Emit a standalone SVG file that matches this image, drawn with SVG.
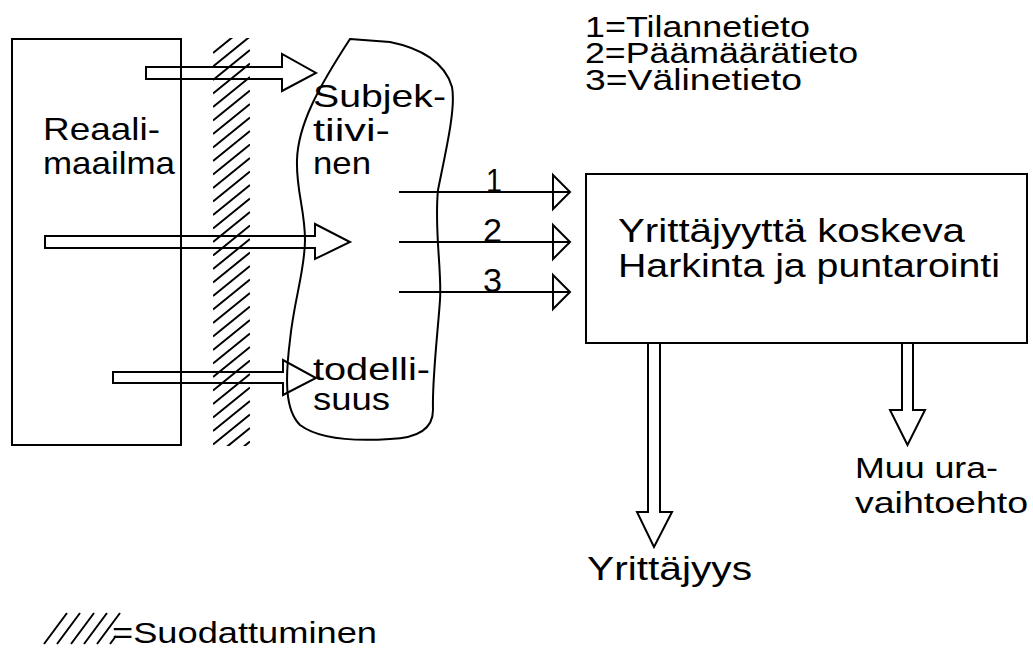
<svg xmlns="http://www.w3.org/2000/svg" width="1033" height="652" viewBox="0 0 1033 652">
<style>
.s{fill:none;stroke:#000;stroke-width:2;stroke-linejoin:miter}
.t{font-family:"Liberation Sans",Arial,sans-serif;fill:#000}
</style>
<defs>
<clipPath id="band"><rect x="213" y="38" width="37" height="408"/></clipPath>
</defs>
<rect width="1033" height="652" fill="#fff"/>
<g id="reaalimaailma">
<rect class="s" x="12" y="39" width="169" height="406"/>
<text class="t" x="43" y="140" font-size="32" textLength="117" lengthAdjust="spacingAndGlyphs">Reaali-</text>
<text class="t" x="43" y="174" font-size="32" textLength="132" lengthAdjust="spacingAndGlyphs">maailma</text>
</g>
<g id="suodatin">
<path class="s" clip-path="url(#band)" d="M213,53l37,-30M213,66.5l37,-30M213,80l37,-30M213,93.5l37,-30M213,107l37,-30M213,120.5l37,-30M213,134l37,-30M213,147.5l37,-30M213,161l37,-30M213,174.5l37,-30M213,188l37,-30M213,201.5l37,-30M213,215l37,-30M213,228.5l37,-30M213,242l37,-30M213,255.5l37,-30M213,269l37,-30M213,282.5l37,-30M213,296l37,-30M213,309.5l37,-30M213,323l37,-30M213,336.5l37,-30M213,350l37,-30M213,363.5l37,-30M213,377l37,-30M213,390.5l37,-30M213,404l37,-30M213,417.5l37,-30M213,431l37,-30M213,444.5l37,-30M213,458l37,-30M213,471.5l37,-30"/>
</g>
<g id="subjektiivinen">
<path class="s" d="M350,39 L390,42 C420,48 445,62 452,87 C456,108 446,150 438,190 C434,230 442,270 440,300 C438,330 432,380 433,410 C433,428 420,438 390,439 C360,441 320,440 300,425 C285,410 285,380 290,340 C294,300 305,270 305,240 C305,210 296,190 297,160 C298,125 318,88 350,39 Z"/>
<text class="t" x="313" y="107" font-size="32" textLength="133" lengthAdjust="spacingAndGlyphs">Subjek-</text>
<text class="t" x="313" y="141" font-size="32" textLength="77" lengthAdjust="spacingAndGlyphs">tiivi-</text>
<text class="t" x="313" y="174" font-size="32" textLength="58" lengthAdjust="spacingAndGlyphs">nen</text>
<text class="t" x="313" y="380" font-size="31" textLength="117" lengthAdjust="spacingAndGlyphs">todelli-</text>
<text class="t" x="313" y="410" font-size="31" textLength="77" lengthAdjust="spacingAndGlyphs">suus</text>
</g>
<g id="harkinta">
<rect class="s" x="586" y="174" width="441" height="169"/>
<text class="t" x="618" y="242" font-size="34" textLength="347" lengthAdjust="spacingAndGlyphs">Yrittäjyyttä koskeva</text>
<text class="t" x="618" y="277" font-size="34" textLength="382" lengthAdjust="spacingAndGlyphs">Harkinta ja puntarointi</text>
</g>
<g id="yrittajyys">
<text class="t" x="587" y="580" font-size="33" textLength="165" lengthAdjust="spacingAndGlyphs">Yrittäjyys</text>
</g>
<g id="muu">
<text class="t" x="855" y="478" font-size="30" textLength="143" lengthAdjust="spacingAndGlyphs">Muu ura-</text>
<text class="t" x="855" y="513" font-size="30" textLength="173" lengthAdjust="spacingAndGlyphs">vaihtoehto</text>
</g>
<g id="selite">
<text class="t" x="585" y="37" font-size="29" textLength="225" lengthAdjust="spacingAndGlyphs">1=Tilannetieto</text>
<text class="t" x="585" y="63" font-size="29" textLength="273" lengthAdjust="spacingAndGlyphs">2=Päämäärätieto</text>
<text class="t" x="585" y="90" font-size="29" textLength="217" lengthAdjust="spacingAndGlyphs">3=Välinetieto</text>
</g>
<g id="suodattuminen">
<path class="s" d="M44,644l23,-31M57,644l23,-31M71,644l23,-31M84,644l23,-31M97,644l23,-31M110,644l6,-8"/>
<text class="t" x="112" y="643" font-size="30" textLength="265" lengthAdjust="spacingAndGlyphs">=Suodattuminen</text>
</g>
<g id="connectors">
<path class="s" d="M146,67H282V54L316,73L282,91V79H146Z"/>
<path class="s" d="M45,236H315V224L350,242L315,259V248H45Z"/>
<path class="s" d="M113,372H283V360L316,378L283,395V383H113Z"/>
<path class="s" d="M399,192H570M553,175L570,192L553,209Z"/>
<path class="s" d="M399,242H570M553,225L570,242L553,259Z"/>
<path class="s" d="M399,292H570M553,275L570,292L553,309Z"/>
<path class="s" d="M648,343V512H637L654,547L672,512H660V343"/>
<path class="s" d="M902,343V410H890L907.5,445L925,410H913V343"/>
<text class="t" x="486" y="192" font-size="33" textLength="16" lengthAdjust="spacingAndGlyphs">1</text>
<text class="t" x="483" y="242" font-size="33" textLength="19" lengthAdjust="spacingAndGlyphs">2</text>
<text class="t" x="483" y="292" font-size="33" textLength="19" lengthAdjust="spacingAndGlyphs">3</text>
</g>
</svg>
